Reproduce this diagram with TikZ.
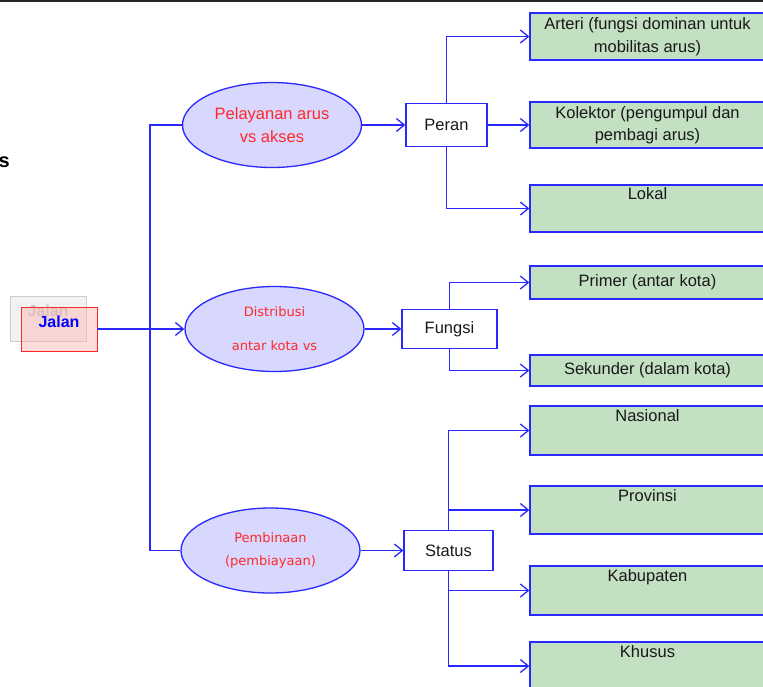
\documentclass[tikz,border=0pt]{standalone}
\usepackage{fontspec}
\setmainfont{Liberation Sans}
\newfontfamily\verdfont{DejaVu Sans}
\usetikzlibrary{arrows.meta,shapes.geometric,positioning}
\definecolor{linkblue}{RGB}{40,40,255}
\definecolor{ovalfill}{RGB}{216,216,255}
\definecolor{leaffill}{RGB}{195,224,195}
\definecolor{redtext}{RGB}{255,40,40}

\begin{document}
\begin{tikzpicture}[
  x=1pt,y=-1pt,
  every node/.style={font=\fontsize{16.5}{22.5}\selectfont,align=center},
  flow/.style={-{Straight Barb[length=8pt,width=13pt]},draw=linkblue,line width=1.3pt},
  link/.style={draw=linkblue,line width=1.3pt},
  oval/.style={ellipse,draw=linkblue,fill=ovalfill,line width=1.3pt,
               minimum width=179pt,minimum height=85pt,inner sep=0pt,text=redtext},
  role/.style={rectangle,draw=linkblue,fill=white,line width=1.3pt,
               inner sep=0pt,text=black!90},
  leaf/.style={rectangle,draw=linkblue,fill=leaffill,line width=1.3pt,
               minimum width=235pt,inner sep=0pt,text=black!90},
  tag/.style={rectangle,minimum width=76pt,inner sep=0pt,text height=20.5pt,
              text depth=24pt,font=\bfseries\fontsize{16}{18}\selectfont}
]
  \useasboundingbox (0,0) rectangle (763,686);
  \draw[black!85,line width=2pt] (0,1) -- (763,1);

  \node[anchor=base east,inner sep=0pt,font=\bfseries\fontsize{20}{20}\selectfont]
    (cut) at (10,167) {s};

  % root
  \node[tag,draw=black!20,fill=black!5,text=black!22] (ghost) at (48,318.5) {Jalan};
  \node[tag,draw=red!85,fill=red!30,fill opacity=0.45,text opacity=1,text=blue]
    (jalan) at (59,329) {Jalan};

  % second level
  \node[oval,font=\fontsize{16.5}{23}\selectfont] (serve) at (272,125)
    {Pelayanan arus\\vs akses};
  \node[oval,font=\verdfont\fontsize{13}{34}\selectfont] (distrib) at (274.5,329)
    {Distribusi\\antar kota vs};
  \node[oval,font=\verdfont\fontsize{13}{23}\selectfont] (build) at (270.5,550.5)
    {Pembinaan\\(pembiayaan)};

  \node[role,minimum width=81pt,minimum height=43pt] (peran) at (446.5,125) {Peran};
  \node[role,minimum width=95pt,minimum height=39pt] (fungsi) at (449.5,329) {Fungsi};
  \node[role,minimum width=89pt,minimum height=40pt] (status) at (448.5,550.5) {Status};

  % leaves
  \node[leaf,minimum height=47pt] (arteri) at (647.5,36.5)
    {Arteri (fungsi dominan untuk\\mobilitas arus)};
  \node[leaf,minimum height=46pt] (kolektor) at (647.5,125)
    {Kolektor (pengumpul dan\\pembagi arus)};
  \node[leaf,minimum height=47pt] (lokal) at (647.5,208.5) {Lokal\\\strut};
  \node[leaf,minimum height=33pt] (primer) at (647.5,282.5) {Primer (antar kota)};
  \node[leaf,minimum height=31pt] (sekunder) at (647.5,370.5) {Sekunder (dalam kota)};
  \node[leaf,minimum height=49pt] (nasional) at (647.5,430.5) {Nasional\\\strut};
  \node[leaf,minimum height=48pt] (provinsi) at (647.5,510) {Provinsi\\\strut};
  \node[leaf,minimum height=49pt] (kabupaten) at (647.5,590.5) {Kabupaten\\\strut};
  \node[leaf,minimum height=48pt] (khusus) at (647.5,666) {Khusus\\\strut};

  % connectors
  \coordinate (trunk) at (150,329);
  \draw[flow] (jalan.east) -- (distrib.west);
  \draw[link] (serve.west) -| (trunk) |- (build.west);

  \draw[flow] (serve.east) -- (peran.west);
  \draw[flow] (peran.north) |- (arteri.west);
  \draw[flow] (peran.east) -- (kolektor.west);
  \draw[flow] (peran.south) |- (lokal.west);

  \draw[flow] (distrib.east) -- (fungsi.west);
  \draw[flow] (fungsi.north) |- (primer.west);
  \draw[flow] (fungsi.south) |- (sekunder.west);

  \draw[flow] (build.east) -- (status.west);
  \draw[flow] (status.north) |- (nasional.west);
  \draw[flow] (status.north |- provinsi.west) -- (provinsi.west);
  \draw[flow] (status.south |- kabupaten.west) -- (kabupaten.west);
  \draw[flow] (status.south) |- (khusus.west);
\end{tikzpicture}
\end{document}
